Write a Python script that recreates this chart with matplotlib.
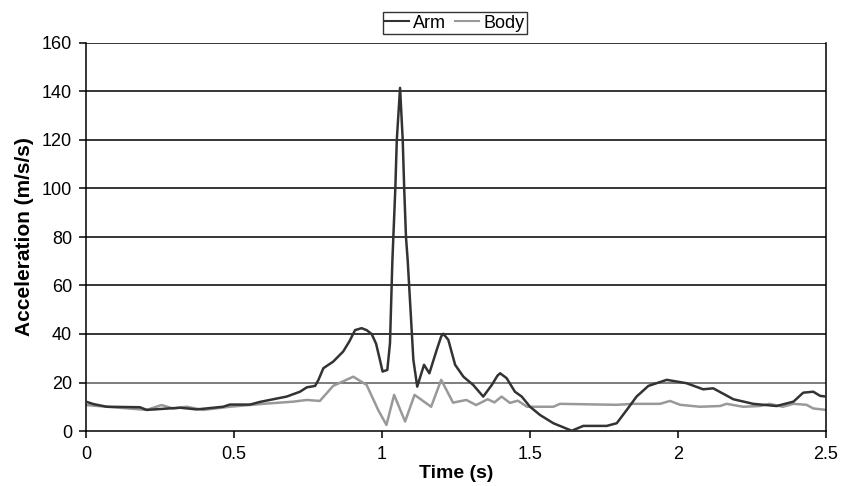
import matplotlib
matplotlib.use("Agg")
import matplotlib.pyplot as plt

plt.rcParams['font.family'] = ['Liberation Sans', 'DejaVu Sans']

arm_t = [0.0, 0.025, 0.07, 0.182, 0.205, 0.318, 0.374, 0.463, 0.486, 0.554, 0.588, 0.633,
         0.678, 0.723, 0.746, 0.774, 0.785, 0.802, 0.835, 0.869, 0.890, 0.909, 0.931,
         0.948, 0.965, 0.980, 0.993, 1.002, 1.018, 1.027, 1.035, 1.045, 1.050, 1.061,
         1.070, 1.075, 1.081, 1.087, 1.106, 1.119, 1.142, 1.160, 1.185, 1.200, 1.207,
         1.224, 1.247, 1.275, 1.308, 1.342, 1.371, 1.390, 1.399, 1.421, 1.449, 1.472,
         1.500, 1.534, 1.579, 1.601, 1.641, 1.680, 1.759, 1.793, 1.827, 1.860, 1.900,
         1.962, 2.029, 2.085, 2.119, 2.187, 2.254, 2.333, 2.390, 2.423, 2.457, 2.480,
         2.500]
arm_a = [12.1, 11.1, 10.0, 9.8, 8.7, 9.6, 8.9, 10.0, 10.9, 10.9, 12.0, 13.1,
         14.2, 16.2, 18.0, 18.6, 21.0, 25.9, 28.6, 32.8, 37.0, 41.6, 42.4,
         41.6, 40.0, 36.0, 29.3, 24.5, 25.2, 36.2, 70.0, 100.0, 120.0, 141.5,
         120.0, 100.0, 80.0, 70.0, 29.3, 18.3, 27.3, 23.8, 33.5, 39.0, 40.1,
         37.6, 27.3, 22.4, 19.0, 14.2, 19.0, 22.8, 23.8, 21.8, 16.2, 14.2,
         10.0, 6.6, 3.2, 2.1, 0.1, 2.1, 2.1, 3.2, 8.7, 14.2, 18.6,
         21.1, 19.7, 17.2, 17.6, 13.1, 11.2, 10.3, 12.1, 15.8, 16.2, 14.5,
         14.2]

body_t = [0.0, 0.092, 0.205, 0.255, 0.294, 0.340, 0.396, 0.486, 0.599, 0.700, 0.746,
          0.790, 0.835, 0.903, 0.948, 0.987, 1.015, 1.041, 1.078, 1.110, 1.166, 1.200,
          1.240, 1.285, 1.318, 1.357, 1.380, 1.404, 1.432, 1.459, 1.490, 1.579, 1.601,
          1.793, 1.850, 1.939, 1.973, 2.007, 2.074, 2.142, 2.164, 2.220, 2.277, 2.309,
          2.354, 2.390, 2.434, 2.457, 2.500]
body_a = [10.7, 9.8, 8.7, 10.7, 9.3, 10.0, 8.7, 10.0, 11.2, 12.1, 12.8,
          12.4, 18.6, 22.4, 19.0, 8.7, 2.5, 14.9, 3.9, 14.9, 10.0, 21.1,
          11.7, 12.8, 10.7, 13.1, 11.8, 14.2, 11.6, 12.5, 10.0, 10.0, 11.2,
          10.8, 11.2, 11.2, 12.4, 10.8, 10.0, 10.3, 11.2, 10.0, 10.3, 11.2,
          10.0, 11.2, 10.8, 9.3, 8.7]

x_ticks = [0, 0.5, 1, 1.5, 2, 2.5]
x_tick_labels = ['0', '0.5', '1', '1.5', '2', '2.5']
y_ticks = [0, 20, 40, 60, 80, 100, 120, 140, 160]

fig = plt.figure(figsize=(8.52, 4.86), dpi=100)
ax = fig.add_axes([86/852, 1-431/486, 740/852, 388/486])

for yv in y_ticks[1:]:
    ax.axhline(yv, color='#5a5a5a' if yv == 20 else 'black', lw=1.1, zorder=1)

ax.plot(arm_t, arm_a, color='#333333', lw=1.8, label='Arm', zorder=3,
        solid_joinstyle='round')
ax.plot(body_t, body_a, color='#999999', lw=1.8, label='Body', zorder=2,
        solid_joinstyle='round')

ax.set_xlim(0, 2.5)
ax.set_ylim(0, 160)
ax.set_xticks(x_ticks)
ax.set_xticklabels(x_tick_labels)
ax.set_yticks(y_ticks)
ax.tick_params(direction='out', length=5, width=1.1, labelsize=13, colors='black')
ax.tick_params(axis='x', pad=6)
ax.tick_params(axis='y', pad=5)
for s in ax.spines.values():
    s.set_color('black')
    s.set_linewidth(1.1)
ax.spines['top'].set_visible(False)

ax.set_xlabel('Time (s)', fontsize=14, fontweight='bold', labelpad=1)
ax.set_ylabel('Acceleration (m/s/s)', fontsize=15, fontweight='bold', labelpad=6)

leg = fig.legend(loc='center', bbox_to_anchor=(455/852, 1-23/486), ncol=2,
                 fontsize=13, frameon=True, fancybox=False, handlelength=1.3,
                 handletextpad=0.25, columnspacing=0.5, borderpad=0.15,
                 borderaxespad=0)
leg.get_frame().set_edgecolor('black')
leg.get_frame().set_linewidth(1.0)
for line in leg.get_lines():
    line.set_linewidth(1.5)

fig.savefig('out.png', dpi=100)
